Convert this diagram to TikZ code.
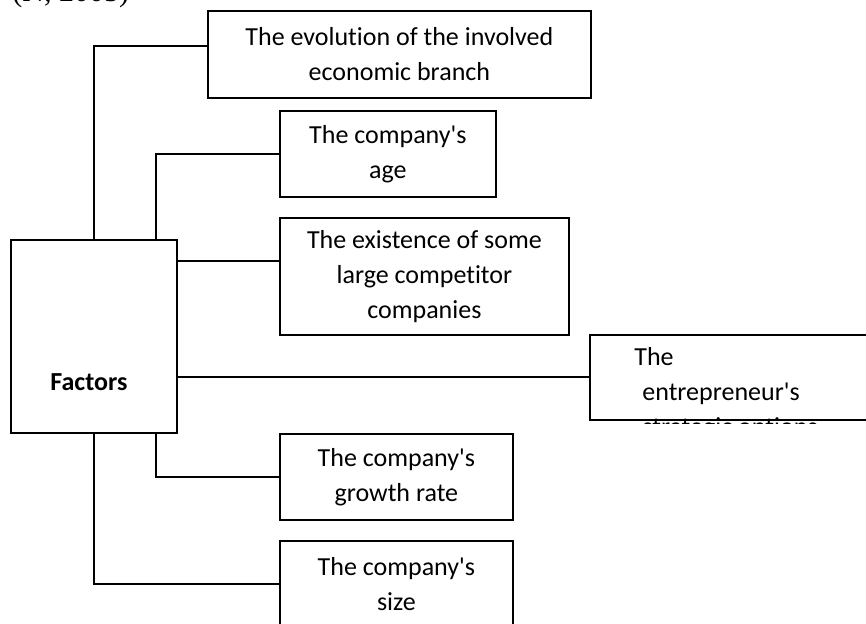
\documentclass[tikz,border=0pt]{standalone}
\usepackage{fontspec}
\setmainfont{Carlito}[Ligatures=NoCommon]
\newfontfamily\citefont{Liberation Serif}
\usetikzlibrary{positioning}

\begin{document}
\begin{tikzpicture}[x=0.5pt, y=-0.5pt,
			box/.style={draw, line width=0.9pt, inner sep=0pt, align=center, anchor=north west, font=\fontsize{13}{17.5}\selectfont},
			link/.style={draw, line width=0.9pt}]
			\clip (0,0) rectangle (866,624);
			\node[anchor=base west, inner sep=0pt, font=\citefont\fontsize{15}{18}\selectfont] (cite) at (12,2) {(N, 2005)};
			% factor box and its six branches
			\node[box, minimum width=83pt, minimum height=96.5pt,
				label={[font=\bfseries\fontsize{13}{15}\selectfont, xshift=-2.5pt, yshift=-23pt]center:Factors}] (factors) at (10,239) {};
			\node[box, minimum width=191.5pt, minimum height=43.5pt] (evol) at (207,10) {The evolution of the involved\\economic branch};
			\node[box, minimum width=108pt, minimum height=43pt] (age) at (279,110) {The company\textquotesingle s\\age};
			\node[box, minimum width=144.5pt, minimum height=58.5pt] (comp) at (279,217) {The existence of some\\large competitor\\companies};
			\node[box, minimum width=150pt, minimum height=42.5pt] (entr) at (589,334) {};
			\node[box, minimum width=116.5pt, minimum height=43pt] (growth) at (279,433) {The company\textquotesingle s\\growth rate};
			\node[box, minimum width=116.5pt, minimum height=43pt] (size) at (279,540) {The company\textquotesingle s\\size};
			\begin{scope}
				\clip (entr.north west) rectangle ([yshift=-1.5pt]entr.south east);
				\node[anchor=north west, inner sep=0pt, align=left, font=\fontsize{13}{17.5}\selectfont] (entrtext) at (634,347) {The\\\hspace*{4pt}entrepreneur\textquotesingle s\\\hspace*{4pt}strategic options};
			\end{scope}
			\coordinate (evolin) at ([yshift=4.25pt]evol.west);
			\coordinate (compin) at ([yshift=7.75pt]comp.west);
			\path[link] (factors.north) |- (evolin);
			\path[link] ([xshift=31pt]factors.north) |- (age.west);
			\path[link] (factors.east |- compin) -- (compin);
			\path[link] (factors.east |- entr.west) -- (entr.west);
			\path[link] ([xshift=31pt]factors.south) |- (growth.west);
			\path[link] (factors.south) |- (size.west);
	\end{tikzpicture}
\end{document}
